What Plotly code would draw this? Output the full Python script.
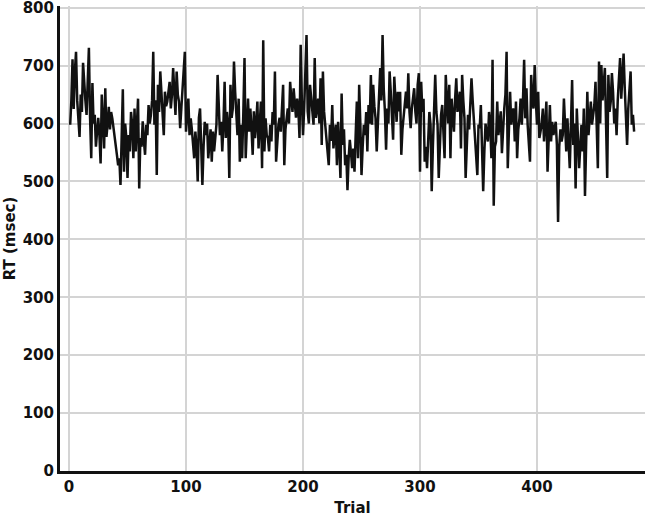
import plotly.graph_objects as go

rt_001_044 = [598, 640, 711, 625, 690, 724, 640, 610, 577, 650, 620, 705, 664, 640, 615, 700,
              731, 610, 540, 670, 600, 615, 560, 586, 610, 580, 531, 650, 600, 557, 661, 577,
              600, 629, 590, 620, 609, 590, 575, 563, 545, 528, 540, 494]
rt_045_095 = [560, 659, 517, 600, 575, 506, 580, 552, 620, 598, 540, 626, 552, 600, 643, 488,
              575, 560, 604, 570, 546, 598, 580, 632, 600, 615, 640, 724, 598, 640, 511, 667,
              620, 690, 655, 610, 580, 655, 630, 638, 660, 672, 626, 650, 696, 660, 615, 690,
              650, 638, 592]
rt_096_146 = [626, 660, 684, 724, 586, 620, 643, 580, 609, 590, 569, 540, 586, 560, 500, 610,
              626, 569, 494, 560, 603, 580, 600, 540, 563, 590, 534, 586, 552, 580, 598, 684,
              620, 580, 603, 552, 600, 672, 575, 620, 598, 506, 667, 610, 626, 707, 655, 600,
              580, 643, 534]
rt_147_197 = [598, 540, 620, 713, 540, 600, 643, 586, 626, 590, 546, 621, 575, 600, 638, 557,
              600, 638, 523, 744, 552, 609, 580, 575, 552, 598, 569, 620, 598, 690, 534, 575,
              598, 610, 586, 626, 667, 528, 590, 609, 626, 600, 672, 643, 620, 661, 632, 610,
              643, 626, 575]
rt_198_249 = [736, 640, 580, 626, 680, 753, 621, 600, 667, 640, 626, 598, 713, 610, 626, 643,
              600, 678, 563, 690, 621, 600, 580, 560, 528, 598, 570, 632, 557, 580, 598, 528,
              603, 560, 506, 652, 563, 590, 528, 546, 485, 540, 572, 550, 523, 557, 517, 580,
              638, 540, 667, 600]
rt_250_300 = [511, 560, 598, 580, 620, 552, 632, 600, 684, 598, 667, 630, 609, 552, 600, 638,
              696, 640, 753, 660, 621, 555, 626, 600, 690, 655, 620, 572, 681, 640, 603, 655,
              621, 655, 546, 590, 615, 640, 655, 626, 687, 620, 592, 626, 640, 661, 621, 600,
              667, 687, 517]
rt_301_351 = [672, 620, 643, 534, 560, 523, 580, 620, 598, 483, 560, 615, 684, 620, 598, 506,
              570, 615, 632, 590, 540, 684, 626, 600, 667, 540, 643, 610, 586, 643, 678, 620,
              638, 655, 557, 684, 640, 609, 506, 569, 615, 590, 643, 678, 640, 609, 580, 550,
              511, 598, 592]
rt_352_402 = [632, 560, 483, 552, 600, 580, 569, 620, 598, 540, 710, 458, 560, 569, 638, 580,
              600, 621, 549, 600, 626, 650, 724, 523, 600, 655, 598, 620, 626, 569, 638, 540,
              590, 609, 643, 598, 640, 710, 609, 661, 598, 570, 534, 684, 640, 626, 701, 640,
              598, 655, 575]
rt_403_454 = [586, 600, 626, 569, 600, 638, 517, 590, 632, 569, 603, 580, 592, 603, 563, 430,
              560, 590, 569, 580, 643, 600, 552, 609, 560, 523, 598, 675, 563, 600, 488, 626,
              575, 523, 560, 598, 552, 626, 475, 560, 655, 580, 610, 638, 598, 620, 632, 672,
              592, 523, 707, 600]
rt_455_483 = [701, 640, 667, 696, 600, 506, 684, 620, 638, 687, 655, 600, 626, 580, 640, 690,
              713, 643, 690, 721, 661, 600, 563, 626, 660, 690, 598, 615, 586]

rt = (rt_001_044 + rt_045_095 + rt_096_146 + rt_147_197 + rt_198_249 +
      rt_250_300 + rt_301_351 + rt_352_402 + rt_403_454 + rt_455_483)
trial = list(range(1, len(rt) + 1))

x_ticks = [0, 100, 200, 300, 400]
y_ticks = [0, 100, 200, 300, 400, 500, 600, 700, 800]

fig = go.Figure(go.Scatter(
    x=trial, y=rt, mode='lines',
    line=dict(color='#111111', width=2.5),
))

axis_font = dict(family='DejaVu Sans, Arial, sans-serif', size=15, color='#111111', weight='bold')

fig.update_layout(
    width=649, height=517,
    margin=dict(l=60, r=4, t=6, b=46),
    paper_bgcolor='white', plot_bgcolor='white',
    showlegend=False,
    font=axis_font,
)
fig.update_xaxes(
    range=[-7.7, 492.3], tickvals=x_ticks,
    showgrid=True, gridcolor='#d4d4d4', gridwidth=2,
    showline=True, linecolor='#111111', linewidth=3,
    zeroline=False, ticks='', automargin=False, ticklabeloverflow='allow',
    title=dict(text='Trial', font=dict(size=15), standoff=9),
)
fig.update_yaxes(
    range=[0, 803], tickvals=y_ticks,
    showgrid=True, gridcolor='#d4d4d4', gridwidth=2,
    showline=True, linecolor='#111111', linewidth=3,
    zeroline=False, ticks='', automargin=False, ticklabeloverflow='allow',
    title=dict(text='RT (msec)', font=dict(size=15), standoff=4),
)

# the page body has an 8px default margin; drop it so the chart sits at the window corner
fig.write_html('out.html', config={'displayModeBar': False},
               post_script="document.body.style.margin = '0';")
